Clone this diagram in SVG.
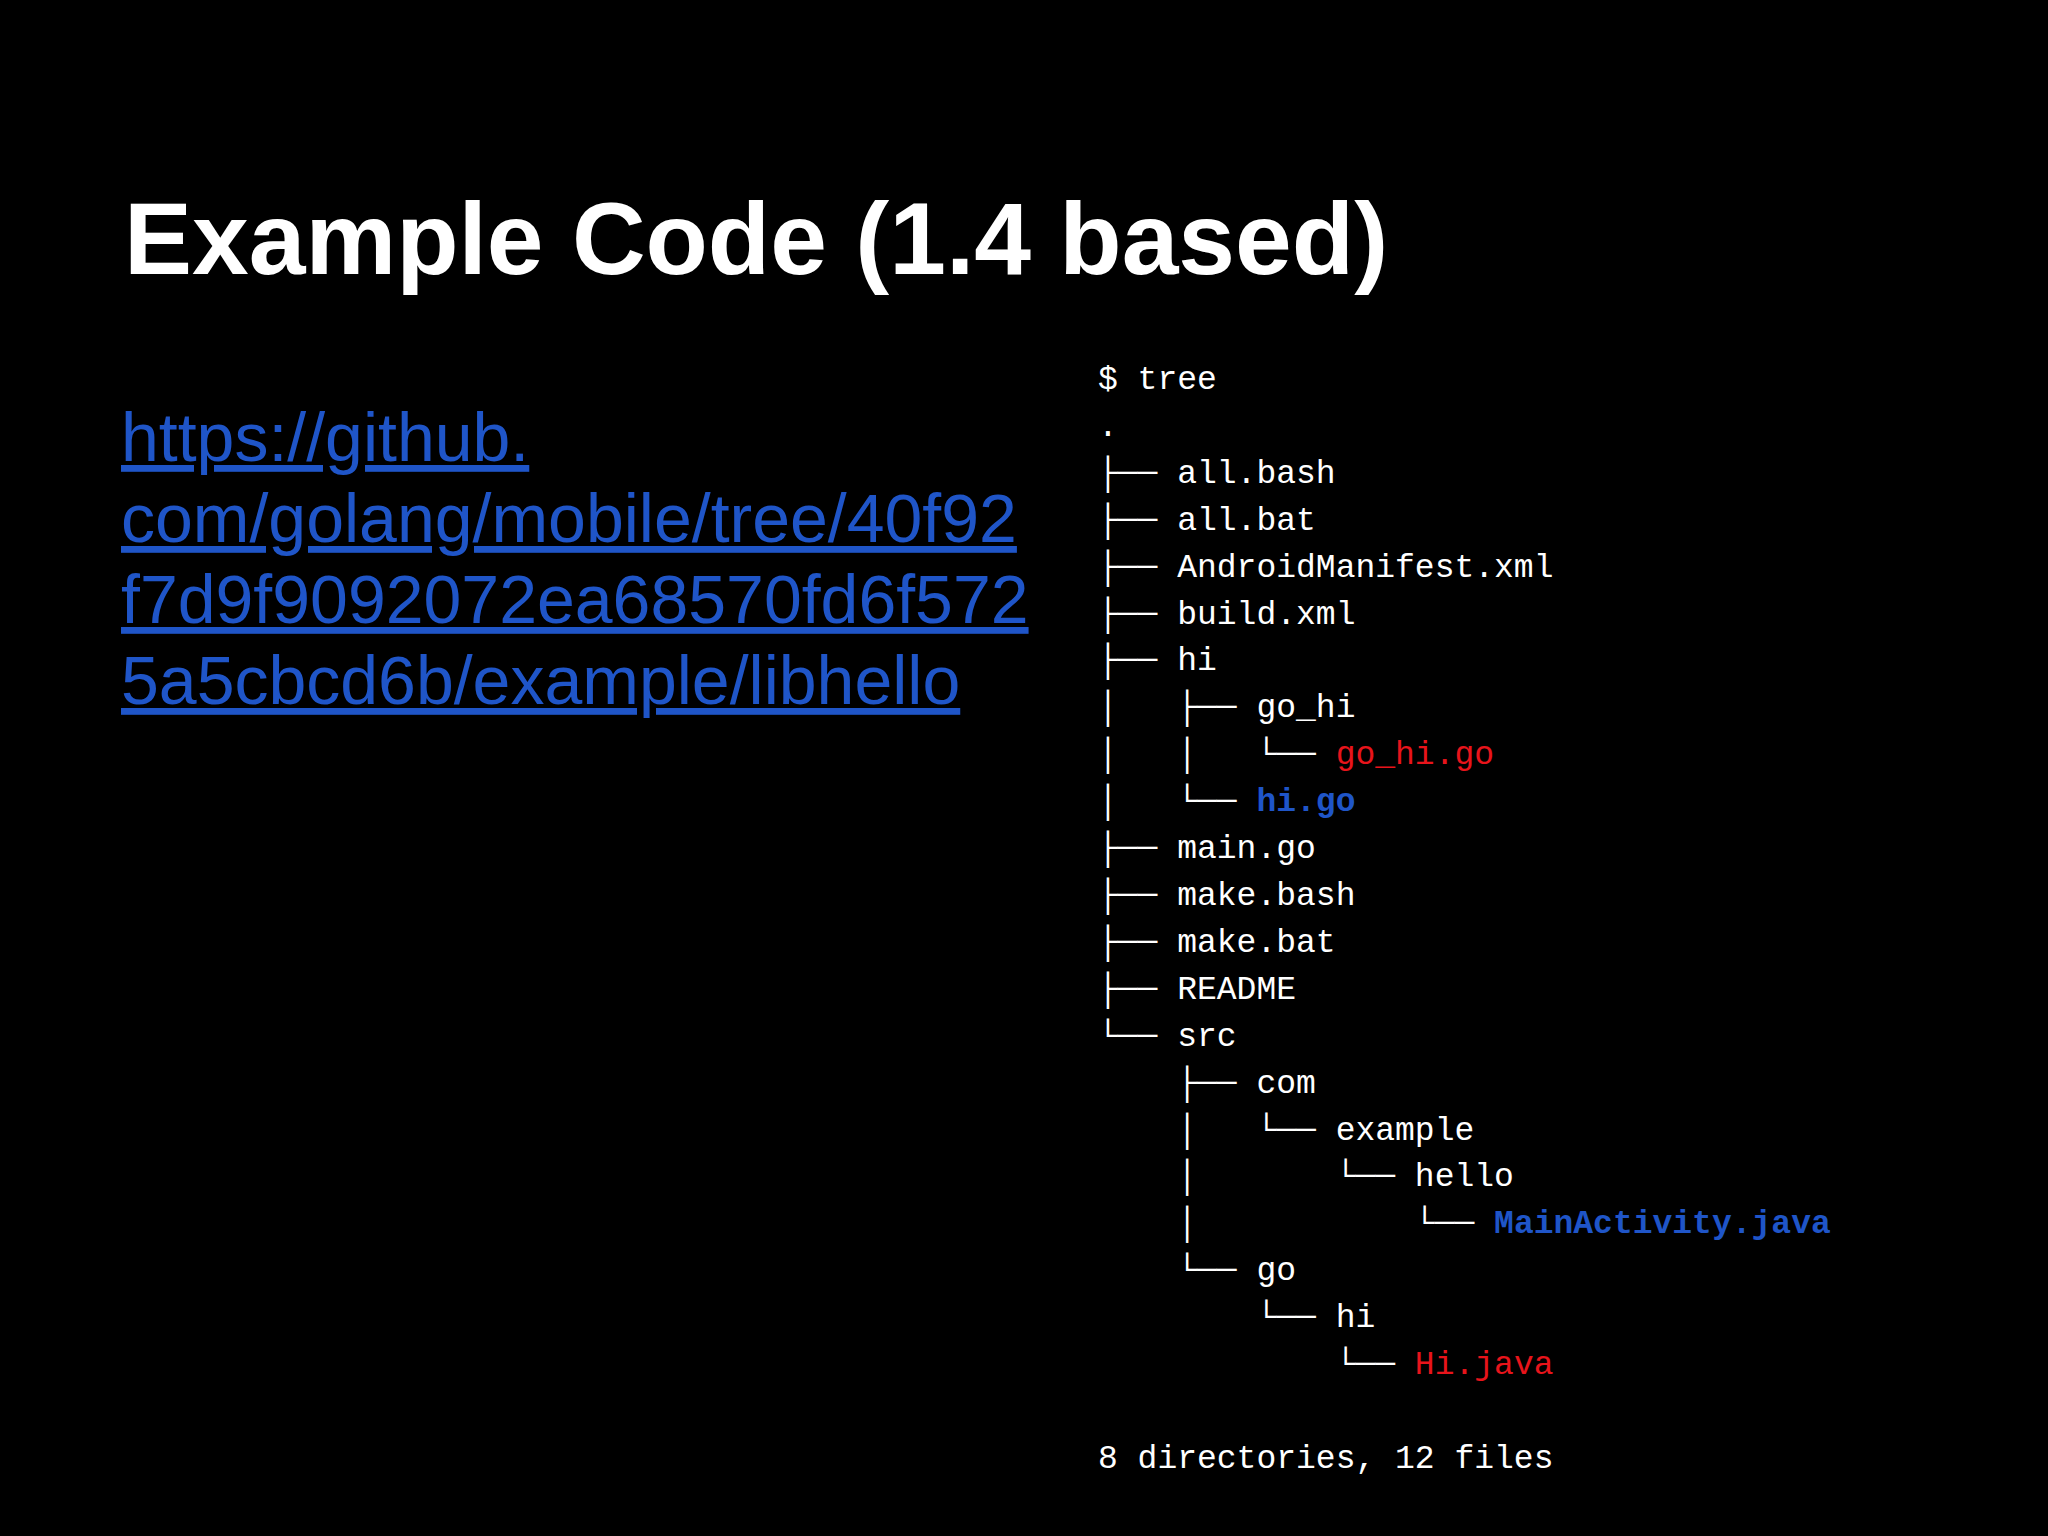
<svg xmlns="http://www.w3.org/2000/svg" width="2048" height="1536" viewBox="0 0 2048 1536">
<style>
.t{font-family:"Liberation Sans",Arial,sans-serif;font-weight:bold;font-size:102px;fill:#fff}
.l{font-family:"Liberation Sans",Arial,sans-serif;font-size:68px;fill:#1f55c8;text-decoration:underline}
.m text{font-family:"Liberation Mono","DejaVu Sans Mono",monospace;font-size:33px;fill:#fff;white-space:pre}
.r{fill:#e8141b}
.b{fill:#1f55c8;font-weight:bold}
</style>
<rect width="2048" height="1536" fill="#000"/>
<g id="title"><text class="t" x="124" y="274">Example Code (1.4 based)</text></g>
<g id="link">
<text class="l" x="121" y="461">https://github.</text>
<text class="l" x="121" y="542">com/golang/mobile/tree/40f92</text>
<text class="l" x="121" y="623">f7d9f9092072ea68570fd6f572</text>
<text class="l" x="121" y="704">5a5cbcd6b/example/libhello</text>
</g>
<g id="tree" class="m">
<text x="1098" y="389">$ tree</text>
<text x="1098" y="436">.</text>
<text x="1098" y="483">├── all.bash</text>
<text x="1098" y="530">├── all.bat</text>
<text x="1098" y="577">├── AndroidManifest.xml</text>
<text x="1098" y="624">├── build.xml</text>
<text x="1098" y="670">├── hi</text>
<text x="1098" y="717">│&#160;&#160;&#160;├── go_hi</text>
<text x="1098" y="764">│&#160;&#160;&#160;│&#160;&#160;&#160;└── <tspan class="r">go_hi.go</tspan></text>
<text x="1098" y="811">│&#160;&#160;&#160;└── <tspan class="b">hi.go</tspan></text>
<text x="1098" y="858">├── main.go</text>
<text x="1098" y="905">├── make.bash</text>
<text x="1098" y="952">├── make.bat</text>
<text x="1098" y="999">├── README</text>
<text x="1098" y="1046">└── src</text>
<text x="1098" y="1093">&#160;&#160;&#160;&#160;├── com</text>
<text x="1098" y="1140">&#160;&#160;&#160;&#160;│&#160;&#160;&#160;└── example</text>
<text x="1098" y="1186">&#160;&#160;&#160;&#160;│&#160;&#160;&#160;&#160;&#160;&#160;&#160;└── hello</text>
<text x="1098" y="1233">&#160;&#160;&#160;&#160;│&#160;&#160;&#160;&#160;&#160;&#160;&#160;&#160;&#160;&#160;&#160;└── <tspan class="b">MainActivity.java</tspan></text>
<text x="1098" y="1280">&#160;&#160;&#160;&#160;└── go</text>
<text x="1098" y="1327">&#160;&#160;&#160;&#160;&#160;&#160;&#160;&#160;└── hi</text>
<text x="1098" y="1374">&#160;&#160;&#160;&#160;&#160;&#160;&#160;&#160;&#160;&#160;&#160;&#160;└── <tspan class="r">Hi.java</tspan></text>
<text x="1098" y="1468">8 directories, 12 files</text>
</g>
</svg>
